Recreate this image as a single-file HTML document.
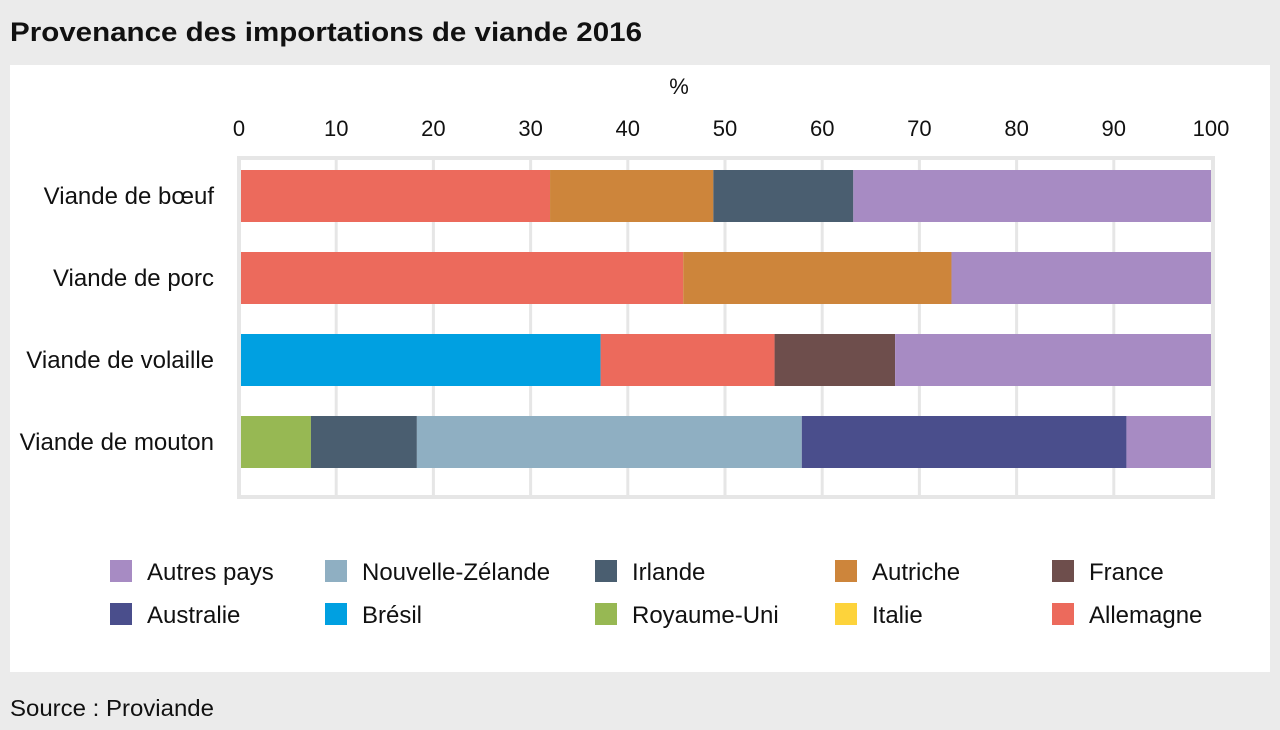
<!DOCTYPE html>
<html><head><meta charset="utf-8"><style>
html,body{margin:0;padding:0;background:#ebebeb;}
svg{display:block;font-family:"Liberation Sans",sans-serif;}
</style></head><body>
<svg width="1280" height="730" viewBox="0 0 1280 730">
<rect x="0" y="0" width="1280" height="730" fill="#ebebeb"/>
<text x="10" y="41" font-size="27" font-weight="bold" fill="#111" textLength="632" lengthAdjust="spacingAndGlyphs">Provenance des importations de viande 2016</text>
<rect x="10" y="65" width="1260" height="607" fill="#fff"/>
<text x="10" y="716" font-size="23" fill="#111" textLength="204" lengthAdjust="spacingAndGlyphs">Source : Proviande</text>
<g id="plot"></g>
<g id="legend"></g>
</svg>
<script>
const categories=["Viande de bœuf","Viande de porc","Viande de volaille","Viande de mouton"];
const seriesNames=["Royaume-Uni","Brésil","Allemagne","Autriche","Irlande","France","Nouvelle-Zélande","Australie","Italie","Autres pays"];
const seriesColors=["#97b853","#00a0e1","#ec6a5c","#cd853b","#4a5e70","#6e4e4c","#8fafc2","#4a4e8c","#fdd33b","#a78bc3"];
const royaumeUni=[0,0,0,7.4];
const bresil=[0,0,37.2,0];
const allemagne=[32.0,45.7,17.9,0];
const autriche=[16.8,27.6,0,0];
const irlande=[14.4,0,0,10.9];
const france=[0,0,12.4,0];
const nouvelleZelande=[0,0,0,39.6];
const australie=[0,0,0,33.4];
const italie=[0,0,0,0];
const autresPays=[36.8,26.7,32.5,8.7];
const ticks=[0,10,20,30,40,50,60,70,80,90,100];
const legendOrder=["Autres pays","Nouvelle-Zélande","Irlande","Autriche","France","Australie","Brésil","Royaume-Uni","Italie","Allemagne"];
const values=[royaumeUni,bresil,allemagne,autriche,irlande,france,nouvelleZelande,australie,italie,autresPays];
const NS="http://www.w3.org/2000/svg";
const x=v=>239+v*9.72;
const yBand=i=>170+i*82;
const plot=document.getElementById('plot');
function mk(tag,attrs,parent){const e=document.createElementNS(NS,tag);for(const k in attrs)e.setAttribute(k,attrs[k]);parent.appendChild(e);return e;}
const frame=mk('rect',{x:239,y:158,width:974,height:339,fill:'none',stroke:'#e6e6e6','stroke-width':4},plot);


ticks.forEach(t=>{
  if(t>0&&t<100){const g=mk('line',{x1:x(t),x2:x(t),y1:158,y2:497,stroke:'#e6e6e6','stroke-width':3},plot);
  
  }
  const tl=mk('text',{x:x(t),y:136,'font-size':22,'text-anchor':'middle',fill:'#111'},plot);
  tl.textContent=t;
  
  
});
const unit=mk('text',{x:679,y:94,'font-size':22,'text-anchor':'middle',fill:'#111'},plot);
unit.textContent='%';


categories.forEach((c,i)=>{
  const lab=mk('text',{x:214,y:yBand(i)+34,'font-size':24,'text-anchor':'end',fill:'#111'},plot);
  lab.textContent=c;
  
  
  let acc=0;
  values.forEach((s,j)=>{
    const v=s[i];if(!v)return;
    const r=mk('rect',{x:x(acc)+(acc===0?2:0),y:yBand(i),width:x(acc+v)-x(acc)-(acc===0?2:0),height:52,fill:seriesColors[j]},plot);
    
    
    acc+=v;
  });
});
const legend=document.getElementById('legend');
const colX=[110,325,595,835,1052];
legendOrder.forEach((n,k)=>{
  const cx=colX[k%5],cy=k<5?571:614;
  const sw=mk('rect',{x:cx,y:cy-11,width:22,height:22,fill:seriesColors[seriesNames.indexOf(n)]},legend);
  
  
  const t=mk('text',{x:cx+37,y:cy+9,'font-size':24,fill:'#111'},legend);
  t.textContent=n;
  
  
});
</script>
</body></html>
